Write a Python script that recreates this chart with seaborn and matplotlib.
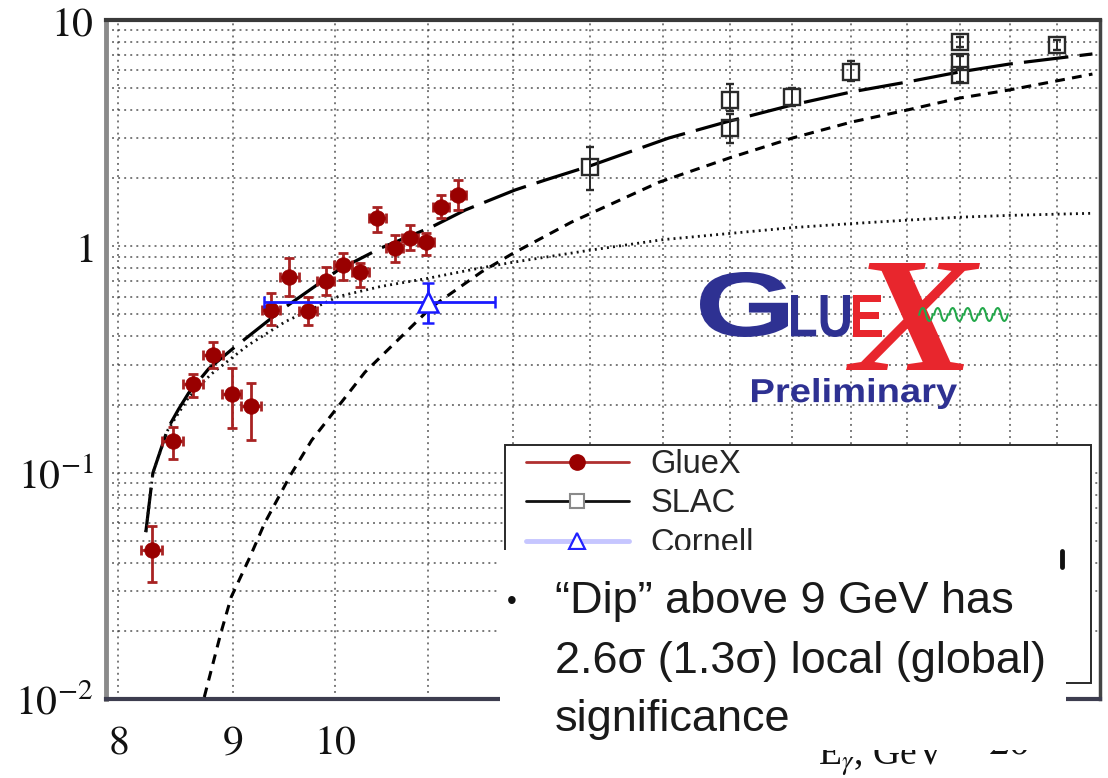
import numpy as np
import matplotlib
matplotlib.use("Agg")
import matplotlib.pyplot as plt
import seaborn as sns
from matplotlib.lines import Line2D
from matplotlib.patches import Rectangle, PathPatch
from matplotlib.textpath import TextPath
from matplotlib.font_manager import FontProperties
from matplotlib.transforms import Affine2D
from matplotlib.ticker import FixedLocator, FixedFormatter, LogLocator, NullFormatter

# ---------------------------------------------------------------------------
# J/psi photoproduction total cross section [nb] versus photon energy [GeV]
# ---------------------------------------------------------------------------
gluex_e = [8.28, 8.46, 8.64, 8.82, 8.99, 9.17, 9.36, 9.54, 9.72,
           9.90, 10.08, 10.26, 10.44, 10.63, 10.80, 10.98, 11.15, 11.35]
gluex_sigma = [0.0455, 0.138, 0.246, 0.331, 0.2225, 0.197, 0.523, 0.731, 0.518,
               0.703, 0.827, 0.770, 1.33, 0.983, 1.088, 1.04, 1.49, 1.69]
gluex_lo = [0.033, 0.115, 0.215, 0.29, 0.158, 0.139, 0.449, 0.603, 0.449,
            0.609, 0.71, 0.661, 1.157, 0.852, 0.96, 0.915, 1.334, 1.447]
gluex_hi = [0.058, 0.159, 0.272, 0.376, 0.29, 0.25, 0.622, 0.888, 0.597,
            0.81, 0.934, 0.844, 1.49, 1.12, 1.24, 1.145, 1.686, 1.96]
gluex_half_bin = 0.09

slac_e = [13.0, 15.0, 15.0, 16.0, 17.0, 19.0, 19.0, 19.0, 21.0]
slac_sigma = [2.24, 4.43, 3.33, 4.57, 5.89, 8.0, 6.5, 5.71, 7.75]
slac_lo = [1.77, 3.95, 2.85, 4.15, 5.35, 7.6, 6.1, 5.3, 7.35]
slac_hi = [2.75, 5.20, 3.85, 5.00, 6.60, 8.4, 6.9, 6.1, 8.15]

cornell_e = [11.0]
cornell_sigma = [0.57]
cornell_e_lo = [9.29]
cornell_e_hi = [11.79]
cornell_lo = [0.458]
cornell_hi = [0.686]

# model curves: total fit (long dash), two components (short dash, dotted)
fit_e = [8.23, 8.29, 8.42, 8.51, 8.60, 8.78, 8.99, 9.50, 10.03, 10.48, 11.04,
         11.43, 12.03, 12.41, 12.99, 14.09, 14.94, 15.99, 17.0, 18.0, 18.99,
         20.0, 21.78]
fit_sigma = [0.0546, 0.0996, 0.1575, 0.19, 0.2247, 0.288, 0.35, 0.539, 0.786,
             0.983, 1.217, 1.447, 1.774, 1.963, 2.264, 3.01, 3.54, 4.21, 4.81,
             5.32, 5.89, 6.39, 7.08]

comp2_e = [8.74, 8.89, 8.985, 9.16, 9.30, 9.55, 9.76, 10.0, 10.31, 11.04, 11.62,
           11.99, 12.75, 13.95, 15.0, 16.0, 17.0, 18.0, 19.0, 20.0, 21.78]
comp2_sigma = [0.0102, 0.01955, 0.0282, 0.0424, 0.0599, 0.0976, 0.139, 0.189,
               0.278, 0.539, 0.77, 0.925, 1.28, 1.92, 2.46, 3.01, 3.54, 4.00,
               4.52, 4.91, 5.77]

comp3_e = [8.23, 8.29, 8.42, 8.60, 8.80, 9.14, 9.50, 10.03, 10.48, 10.98, 11.59,
           12.0, 12.98, 14.0, 15.0, 16.0, 17.0, 18.0, 19.0, 20.0, 21.8]
comp3_sigma = [0.0546, 0.0996, 0.155, 0.215, 0.272, 0.365, 0.465, 0.6, 0.665,
               0.72, 0.80, 0.85, 0.96, 1.07, 1.14, 1.21, 1.26, 1.305, 1.345,
               1.37, 1.40]

x_major = [10, 20]
x_minor = [8, 9, 11, 12, 13, 14, 15, 16, 17, 18, 19, 21]
x_minor_labels = ["$8$", "$9$"] + [""] * 10
y_major = [0.01, 0.1, 1, 10]
y_labels = ["$10^{-2}$", "$10^{-1}$", "$1$", "$10$"]

legend_labels = ["GlueX", "SLAC", "Cornell"]
note_lines = ["\u201cDip\u201d above 9 GeV has",
              "2.6\u03c3 (1.3\u03c3) local (global)",
              "significance"]

# ---------------------------------------------------------------------------
sns.set_style("white")
plt.rcParams["font.family"] = ["Liberation Sans", "DejaVu Sans"]
plt.rcParams["mathtext.fontset"] = "stix"

W, H = 1108, 778
fig = plt.figure(figsize=(W / 100, H / 100), dpi=100)
fig.patch.set_facecolor("white")


def fx(px):
    return px / W


def fy(py):
    return 1 - py / H


ax = fig.add_axes([fx(106), fy(699), (1100 - 106) / W, (699 - 20) / H])
ax.set_xscale("log")
ax.set_yscale("log")
ax.set_xlim(7.9, 21.95)
ax.set_ylim(0.01, 10)

# grid on every tick
ax.xaxis.set_major_locator(FixedLocator(x_major))
ax.xaxis.set_minor_locator(FixedLocator(x_minor))
ax.xaxis.set_major_formatter(FixedFormatter(["$10$", "$20$"]))
ax.xaxis.set_minor_formatter(FixedFormatter(x_minor_labels))
ax.yaxis.set_major_locator(FixedLocator(y_major))
ax.yaxis.set_major_formatter(FixedFormatter(y_labels))
ax.yaxis.set_minor_locator(LogLocator(base=10, subs=np.arange(2, 10)))
ax.yaxis.set_minor_formatter(NullFormatter())
ax.grid(True, which="both", color="#333333", linestyle=(0, (1.2, 2.6)),
        linewidth=1.15, alpha=0.8)
ax.set_axisbelow(True)

ax.tick_params(axis="x", which="both", direction="in", labelsize=30,
               pad=17, width=1.6, colors="#222222", labelcolor="#111111")
ax.tick_params(axis="x", which="major", length=15)
ax.tick_params(axis="x", which="minor", length=7)
ax.tick_params(axis="y", which="both", direction="in", labelsize=30,
               pad=9, width=1.6, colors="#222222", labelcolor="#111111")
ax.tick_params(axis="y", which="major", length=11)
ax.tick_params(axis="y", which="minor", length=6)

ax.spines["top"].set(color="#3a3a3a", linewidth=3)
ax.spines["left"].set(color="#8a8a8a", linewidth=3.5)
ax.spines["bottom"].set(color="#3d3d4f", linewidth=3)
ax.spines["right"].set(color="#444444", linewidth=2.5)

# model curves
sns.lineplot(x=fit_e, y=fit_sigma, ax=ax, color="black", linewidth=2.3,
             linestyle=(0, (14, 3.5)), estimator=None, sort=False, zorder=3)
sns.lineplot(x=comp2_e, y=comp2_sigma, ax=ax, color="black", linewidth=2.2,
             linestyle=(0, (3.2, 2.4)), estimator=None, sort=False, zorder=3)
sns.lineplot(x=comp3_e, y=comp3_sigma, ax=ax, color="#111111", linewidth=2.0,
             linestyle=(0, (0.7, 1.5)), estimator=None, sort=False, zorder=3)

# GlueX
g_e = np.array(gluex_e)
g_s = np.array(gluex_sigma)
ax.errorbar(g_e, g_s, yerr=[g_s - np.array(gluex_lo), np.array(gluex_hi) - g_s],
            xerr=gluex_half_bin, fmt="none", ecolor="#a82222", elinewidth=2,
            capsize=3.5, capthick=2, zorder=4)
sns.scatterplot(x=gluex_e, y=gluex_sigma, ax=ax, color="#990000", s=125,
                marker="o", edgecolor="#990000", linewidth=0.5, zorder=5,
                legend=False)

# SLAC
s_e = np.array(slac_e)
s_s = np.array(slac_sigma)
ax.errorbar(s_e, s_s, yerr=[s_s - np.array(slac_lo), np.array(slac_hi) - s_s],
            fmt="s", ms=11, mfc="none", mec="#2a2a2a", mew=1.7,
            ecolor="#2a2a2a", elinewidth=1.4, capsize=3, capthick=1.4, zorder=5)

# Cornell
c_e = np.array(cornell_e)
c_s = np.array(cornell_sigma)
ax.errorbar(c_e, c_s,
            xerr=[c_e - np.array(cornell_e_lo), np.array(cornell_e_hi) - c_e],
            yerr=[c_s - np.array(cornell_lo), np.array(cornell_hi) - c_s],
            fmt="^", ms=14, mfc="white", mec="#1a1aff", mew=1.8,
            ecolor="#1a1aff", elinewidth=2, capsize=4, capthick=2, zorder=5)

# axis title (lower right)
fig.text(fx(882), fy(765), "E$_{\\gamma}$, GeV", ha="center", va="baseline",
         fontsize=27, family="Liberation Serif", color="#111111", zorder=3)

# legend box and entries
fig.add_artist(Rectangle((fx(505), fy(683)), (1091 - 505) / W, (683 - 445) / H,
                         transform=fig.transFigure, facecolor="white",
                         edgecolor="#2a2a2a", linewidth=1.4, zorder=4))
handles = [
    Line2D([], [], color="#b03030", lw=2, marker="o", ms=11,
           mfc="#990000", mec="#990000"),
    Line2D([], [], color="#111111", lw=2, marker="s", ms=10,
           mfc="white", mec="#8a8a8a", mew=1.5),
    Line2D([], [], color="#c6c6ff", lw=3.5, marker="^", ms=12,
           mfc="white", mec="#2020ff", mew=1.6),
]
fig.legend(handles, legend_labels, loc="upper left",
           bbox_to_anchor=(fx(526), fy(449)), frameon=False,
           prop={"family": "Liberation Sans", "size": 23.5},
           handlelength=3.15, handletextpad=0.67, labelspacing=0.26,
           borderpad=0, borderaxespad=0)


# GlueX logo
def glyphs(text, x0, y0, x1, y1, color, family, weight="bold", style="normal"):
    fp = FontProperties(family=family, weight=weight, style=style)
    tp = TextPath((0, 0), text, size=100, prop=fp)
    bb = tp.get_extents()
    tr = (Affine2D().translate(-bb.x0, -bb.y0)
          .scale((x1 - x0) / bb.width, (y1 - y0) / bb.height)
          .translate(x0, H - y1).scale(1 / W, 1 / H) + fig.transFigure)
    fig.add_artist(PathPatch(tp, transform=tr, facecolor=color,
                             edgecolor="none", zorder=6))


glyphs("G", 700, 272, 788, 337, "#2e3192", "Liberation Sans")
glyphs("LU", 791, 295, 850, 337, "#2e3192", "Liberation Sans")
glyphs("E", 853, 295, 882, 337, "#e8262d", "Liberation Sans")
glyphs("X", 846, 263, 980, 370, "#e8262d", "Liberation Serif",
       weight="bold", style="italic")
for k in range(6):
    glyphs("\u223f", 918 + 15 * k, 307, 934 + 15 * k, 322, "#22a84a",
           "DejaVu Sans", weight="normal")
glyphs("Preliminary", 752, 378, 957, 409, "#2e3192", "Liberation Sans")

# overlay panel with the note
fig.add_artist(Rectangle((fx(500), fy(750)), (1066 - 500) / W, (750 - 550) / H,
                         transform=fig.transFigure, facecolor="white",
                         edgecolor="none", zorder=20))
fig.add_artist(Line2D([fx(1062), fx(1062)], [fy(551), fy(567)],
                      transform=fig.transFigure, color="#111111", lw=3.5,
                      zorder=21))
fig.text(fx(512), fy(609), "\u2022", ha="center", va="baseline", fontsize=20,
         family="Liberation Sans", color="#111111", zorder=21)
for line, base in zip(note_lines, [613, 673, 731]):
    fig.text(fx(555), fy(base), line, ha="left", va="baseline", fontsize=32.5,
             family="Liberation Sans", color="#1a1a1a", zorder=21)

fig.savefig("out.png", dpi=100, facecolor="white")
